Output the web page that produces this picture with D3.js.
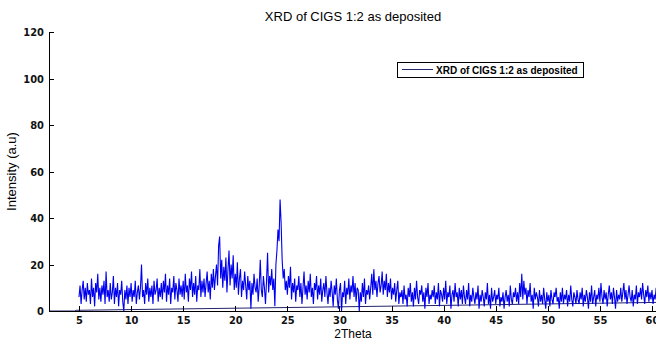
<!DOCTYPE html>
<html>
<head>
<meta charset="utf-8">
<script src="https://cdn.jsdelivr.net/npm/d3@7"></script>
<style>
  body { margin: 0; background: #fff; }
  svg { display: block; }
  .axis .tick text { font-family: 'Liberation Sans Narrow', 'DejaVu Sans Condensed', sans-serif; font-size: 11px; font-weight: bold; fill: #111; }
  .axis path, .axis line { stroke: #000; }
  .lbl { font-family: 'Liberation Sans', Arial, sans-serif; fill: #000; }
</style>
</head>
<body>
<div id="chart"></div>
<script>
const chartTitle = 'XRD of CIGS 1:2 as deposited'
const xLabel = '2Theta'
const yLabel = 'Intensity (a.u)'
const legendLabel = 'XRD of CIGS 1:2 as deposited'
const xTicks = [5, 10, 15, 20, 25, 30, 35, 40, 45, 50, 55, 60]
const yTicks = [0, 20, 40, 60, 80, 100, 120]

// scan from 5 deg, 0.1 deg per point, one row per degree
const scanStart = 5
const scanStep = 0.1
const intensity = [
  6, 11, 3, 9, 13, 5, 10, 4, 12, 7,
  9, 3, 14, 6, 10, 2, 12, 8, 16, 5,
  10, 4, 11, 7, 13, 3, 17, 6, 9, 4,
  12, 5, 8, 15, 3, 10, 6, 12, 2, 9,
  7, 13, 4, 0, 9, 5, 11, 3, 10, 6,
  12, 4, 9, 6, 13, 3, 8, 11, 5, 10,
  20, 6, 9, 3, 12, 7, 14, 4, 10, 6,
  11, 3, 13, 7, 9, 14, 4, 10, 6, 12,
  5, 13, 8, 16, 4, 11, 7, 14, 3, 10,
  8, 15, 5, 12, 9, 4, 14, 7, 11, 6,
  13, 5, 16, 8, 11, 4, 14, 9, 17, 6,
  12, 7, 15, 4, 11, 9, 18, 6, 13, 8,
  14, 6, 12, 17, 8, 13, 5, 16, 10, 18,
  9, 15, 20, 11, 28, 32, 14, 22, 10, 19,
  13, 23, 8, 18, 26, 11, 20, 14, 24, 9,
  16, 10, 21, 7, 14, 18, 6, 13, 9, 17,
  11, 5, 15, 9, 13, 1, 12, 7, 16, 10,
  8, 14, 4, 11, 22, 9, 6, 15, 10, 3,
  13, 25, 8, 15, 11, 18, 9, 14, 2, 20,
  26, 35, 30, 48, 38, 22, 14, 18, 9, 13,
  7, 15, 10, 19, 5, 12, 8, 14, 4, 11,
  9, 15, 6, 12, 3, 10, 17, 7, 11, 5,
  13, 8, 16, 6, 10, 3, 12, 9, 15, 5,
  11, 7, 14, 4, 9, 12, 6, 15, 8, 3,
  10, 6, 13, 8, 2, 11, 7, 14, 5, 1,
  9, 12, 0, 8, 6, 13, 3, 10, 7, 14,
  5, 11, 8, 15, 6, 12, 4, 10, 9, 0,
  8, 4, 12, 6, 14, 3, 9, 7, 11, 5,
  10, 16, 7, 18, 9, 13, 6, 12, 15, 8,
  11, 17, 7, 13, 9, 16, 6, 12, 8, 14,
  5, 10, 7, 12, 4, 9, 13, 3, 8, 6,
  9, 3, 11, 5, 7, 2, 10, 6, 12, 4,
  8, 2, 10, 5, 13, 6, 3, 9, 7, 11,
  4, 8, 1, 10, 6, 12, 3, 7, 5, 9,
  6, 11, 3, 8, 5, 12, 2, 9, 7, 4,
  10, 5, 13, 3, 8, 6, 11, 1, 7, 9,
  4, 12, 6, 8, 2, 10, 5, 9, 3, 11,
  6, 3, 9, 5, 12, 2, 7, 4, 10, 6,
  3, 8, 5, 11, 1, 7, 4, 9, 6, 2,
  8, 5, 12, 3, 7, 1, 10, 4, 6, 9,
  3, 7, 5, 10, 2, 6, 4, 8, 1, 6,
  9, 4, 7, 2, 11, 5, 3, 8, 6, 10,
  4, 8, 3, 12, 6, 16, 5, 13, 7, 10,
  3, 9, 6, 12, 4, 7, 1, 10, 5, 8,
  6, 2, 9, 4, 7, 3, 10, 5, 1, 8,
  4, 7, 2, 9, 5, 3, 8, 6, 10, 4,
  6, 1, 8, 4, 10, 3, 7, 5, 9, 2,
  7, 4, 11, 5, 2, 8, 6, 3, 9, 5,
  3, 8, 5, 10, 2, 7, 4, 9, 6, 1,
  8, 4, 11, 3, 6, 9, 2, 7, 5, 10,
  4, 12, 6, 3, 9, 5, 8, 2, 7, 11,
  5, 8, 3, 10, 6, 1, 9, 4, 7, 5,
  10, 4, 8, 12, 5, 9, 3, 7, 11, 6,
  4, 9, 2, 7, 5, 11, 3, 8, 6, 10,
  5, 12, 7, 3, 9, 6, 11, 4, 8, 5,
  9, 3, 7, 5, 10, 4
]

// slowly rising background trace
const bgAngle = [2.12, 4.6, 4.7, 20, 35, 60.5]
const bgLevel = [0, 0, 0.3, 1.2, 2.1, 3.7]

const dimensions = {
  width: 656,
  height: 340,
  margin: { top: 32, right: -1, bottom: 29, left: 49 }
}

const wrapper = d3.select('#chart').append('svg')
  .attr('width', dimensions.width)
  .attr('height', dimensions.height)

const innerW = dimensions.width - dimensions.margin.left - dimensions.margin.right
const innerH = dimensions.height - dimensions.margin.top - dimensions.margin.bottom

const bounds = wrapper.append('g')
  .attr('transform', `translate(${dimensions.margin.left}, ${dimensions.margin.top})`)

const xScale = d3.scaleLinear()
  .domain([2.12, 60.48])
  .range([0, innerW])
const yScale = d3.scaleLinear()
  .domain([0, 120])
  .range([innerH, 0])

const scan = intensity.map((v, i) => ({ x: scanStart + i * scanStep, y: v }))
const bg = bgAngle.map((a, i) => ({ x: a, y: bgLevel[i] }))

const line = d3.line()
  .x(d => xScale(d.x))
  .y(d => yScale(d.y))

bounds.append('path')
  .datum(bg)
  .attr('d', line)
  .attr('fill', 'none')
  .attr('stroke', '#23236e')
  .attr('stroke-width', 1)

bounds.append('path')
  .datum(scan)
  .attr('d', line)
  .attr('fill', 'none')
  .attr('stroke', '#0000f0')
  .attr('stroke-width', 1.1)

const xAxisContainer = bounds.append('g')
  .attr('class', 'axis')
  .attr('transform', `translate(0, ${innerH})`)
  .call(d3.axisBottom(xScale).tickValues(xTicks).tickSizeInner(-5).tickSizeOuter(0).tickPadding(5))
const yAxisContainer = bounds.append('g')
  .attr('class', 'axis')
  .call(d3.axisLeft(yScale).tickValues(yTicks).tickSizeInner(-5).tickSizeOuter(0).tickPadding(5))

xAxisContainer.selectAll('path, line').attr('shape-rendering', 'crispEdges')
yAxisContainer.selectAll('path, line').attr('shape-rendering', 'crispEdges')

// title and labels
wrapper.append('text')
  .attr('class', 'lbl')
  .attr('x', dimensions.margin.left + innerW / 2)
  .attr('y', 21)
  .attr('text-anchor', 'middle')
  .style('font-size', '13px')
  .text(chartTitle)

wrapper.append('text')
  .attr('class', 'lbl')
  .attr('x', dimensions.margin.left + innerW / 2)
  .attr('y', 338)
  .attr('text-anchor', 'middle')
  .style('font-size', '12px')
  .text(xLabel)

wrapper.append('text')
  .attr('class', 'lbl')
  .attr('transform', `translate(16, ${dimensions.margin.top + innerH / 2}) rotate(-90)`)
  .attr('text-anchor', 'middle')
  .style('font-size', '13px')
  .text(yLabel)

// legend
const legend = wrapper.append('g')
  .attr('transform', 'translate(397, 62)')
legend.append('rect')
  .attr('x', 0.5)
  .attr('y', 0.5)
  .attr('width', 186)
  .attr('height', 15)
  .attr('fill', '#fff')
  .attr('stroke', '#000')
  .attr('stroke-width', 1)
legend.append('line')
  .attr('x1', 5)
  .attr('x2', 36)
  .attr('y1', 7.5)
  .attr('y2', 7.5)
  .attr('stroke', '#23236e')
  .attr('stroke-width', 1)
legend.append('text')
  .attr('class', 'lbl')
  .attr('x', 39)
  .attr('y', 11.5)
  .style('font-size', '10px')
  .style('font-weight', 'bold')
  .text(legendLabel)
</script>
</body>
</html>
